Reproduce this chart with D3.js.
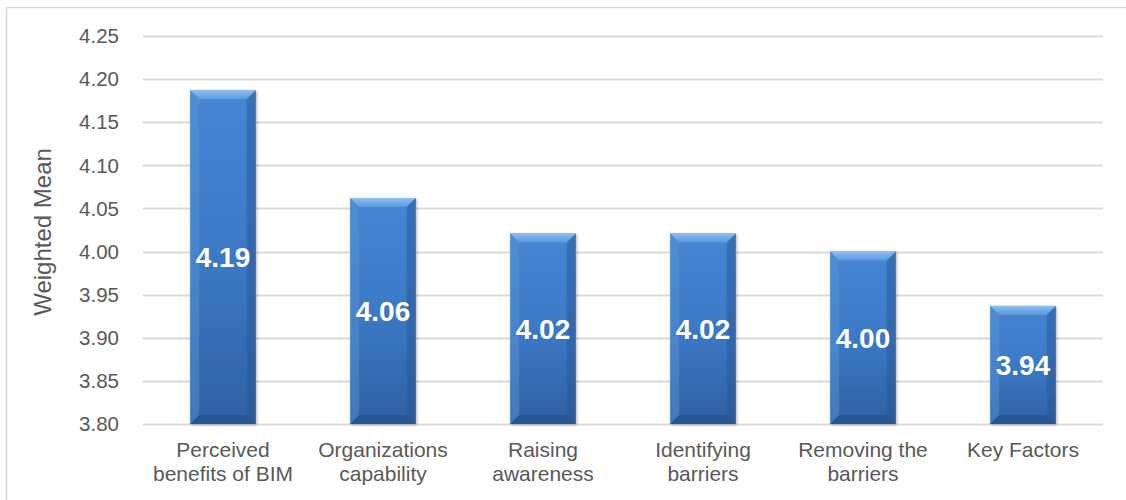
<!DOCTYPE html>
<html><head><meta charset="utf-8">
<script src="https://cdn.jsdelivr.net/npm/d3@7/dist/d3.min.js"></script>
<style>body{margin:0;background:#fff}svg{display:block}text{font-family:"Liberation Sans",Arial,sans-serif}</style>
</head><body>
<svg id="c" width="1126" height="500"></svg>
<script>
const categories = [["Perceived","benefits of BIM"],["Organizations","capability"],["Raising","awareness"],["Identifying","barriers"],["Removing the","barriers"],["Key Factors"]];
const values = [4.187, 4.062, 4.021, 4.021, 4.000, 3.937];
const labels = ["4.19","4.06","4.02","4.02","4.00","3.94"];
const yTicks = [3.80,3.85,3.90,3.95,4.00,4.05,4.10,4.15,4.20,4.25];
const yTitle = "Weighted Mean";

const svg = d3.select("#c");
const m = {l:143, r:1103, t:36, b:424};
svg.append("path").attr("d","M6.5,500 V7.5 H1126").attr("fill","none").attr("stroke","#d9d9d9").attr("stroke-width",1.5);

const x = d3.scaleBand().domain(d3.range(categories.length)).range([m.l,m.r]).paddingInner(0.59).paddingOuter(0.295);
const y = d3.scaleLinear().domain([3.80,4.25]).range([m.b,m.t]);

const defs = svg.append("defs");
const g1 = defs.append("linearGradient").attr("id","bg").attr("x1",0).attr("x2",0).attr("y1",0).attr("y2",1);
g1.append("stop").attr("offset","0%").attr("stop-color","#4686d4");
g1.append("stop").attr("offset","50%").attr("stop-color","#3b79c5");
g1.append("stop").attr("offset","100%").attr("stop-color","#2f61a2");
const g2 = defs.append("linearGradient").attr("id","tg").attr("x1",0).attr("x2",0).attr("y1",0).attr("y2",1);
g2.append("stop").attr("offset","0%").attr("stop-color","#8ec0f0");
g2.append("stop").attr("offset","100%").attr("stop-color","#5a98dc");
const f = defs.append("filter").attr("id","sh").attr("x","-20%").attr("y","-20%").attr("width","140%").attr("height","140%");
f.append("feDropShadow").attr("dx",1).attr("dy",1).attr("stdDeviation",1.5).attr("flood-color","#000").attr("flood-opacity",0.3);

// grid
svg.append("g").selectAll("line").data(yTicks).join("line")
  .attr("x1",m.l).attr("x2",m.r).attr("y1",d=>Math.round(y(d))+0.5).attr("y2",d=>Math.round(y(d))+0.5)
  .attr("stroke","#d9d9d9").attr("stroke-width",2);

// y tick labels
svg.append("g").selectAll("text").data(yTicks).join("text")
  .attr("x",119).attr("y",d=>y(d)).attr("dy","0.35em").attr("text-anchor","end")
  .attr("font-size",20.5).attr("fill","#595959").text(d=>d.toFixed(2));

svg.append("text").attr("transform",`translate(51,${(m.t+m.b)/2+2}) rotate(-90)`)
  .attr("text-anchor","middle").attr("font-size",24).attr("fill","#595959").text(yTitle);

// bars
const bw = x.bandwidth(), bv = 9;
const bars = svg.append("g").selectAll("g").data(values).join("g").attr("filter","url(#sh)");
bars.append("rect").attr("x",(d,i)=>x(i)).attr("y",d=>y(d)).attr("width",bw).attr("height",d=>y(3.80)-y(d)).attr("fill","url(#bg)");
bars.append("path").attr("d",(d,i)=>{const x0=x(i),x1=x0+bw,y0=y(d);return `M${x0},${y0}H${x1}L${x1-bv},${y0+bv}H${x0+bv}Z`;}).attr("fill","url(#tg)");
bars.append("path").attr("d",(d,i)=>{const x0=x(i),y0=y(d),yb=y(3.80);return `M${x0},${y0}L${x0+bv},${y0+bv}V${yb-bv}L${x0},${yb}Z`;}).attr("fill","#5b94d8").attr("opacity",0.45);
bars.append("path").attr("d",(d,i)=>{const x1=x(i)+bw,y0=y(d),yb=y(3.80);return `M${x1},${y0}L${x1-bv},${y0+bv}V${yb-bv}L${x1},${yb}Z`;}).attr("fill","#2a5590").attr("opacity",0.45);
bars.append("path").attr("d",(d,i)=>{const x0=x(i),x1=x0+bw,yb=y(3.80);return `M${x0},${yb}L${x0+bv},${yb-bv}H${x1-bv}L${x1},${yb}Z`;}).attr("fill","#1f4a82").attr("opacity",0.5);

// value labels
svg.append("g").selectAll("text").data(values).join("text")
  .attr("x",(d,i)=>x(i)+bw/2).attr("y",d=>(y(d)+y(3.80))/2).attr("dy","0.36em")
  .attr("text-anchor","middle").attr("font-size",28).attr("font-weight","bold").attr("fill","#fff")
  .text((d,i)=>labels[i]);

// category labels
const cl = svg.append("g").selectAll("text").data(categories).join("text")
  .attr("x",(d,i)=>x(i)+bw/2).attr("y",457).attr("text-anchor","middle").attr("font-size",21).attr("fill","#595959");
cl.selectAll("tspan").data(d=>d).join("tspan").attr("x",function(){return this.parentNode.getAttribute("x");})
  .attr("dy",(d,i)=>i?24:0).text(d=>d);
</script>
</body></html>
